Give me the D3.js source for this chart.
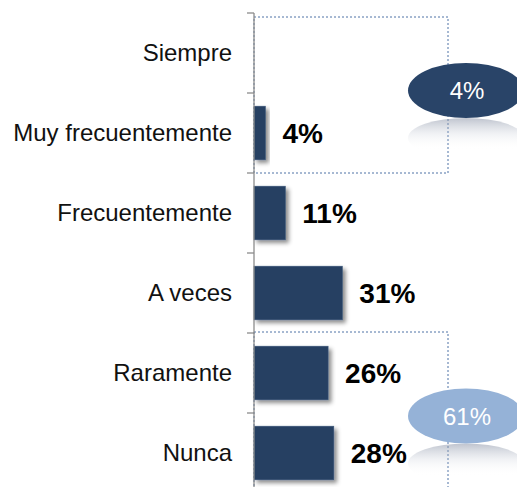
<!DOCTYPE html>
<html>
<head>
<meta charset="utf-8">
<script src="https://cdn.jsdelivr.net/npm/d3@7"></script>
<style>
  html, body { margin: 0; padding: 0; background: #fff; }
  svg { display: block; }
</style>
</head>
<body>
<div id="chart"></div>
<script>
// Frecuencia de respuesta (%)
const categories = ["Siempre", "Muy frecuentemente", "Frecuentemente", "A veces", "Raramente", "Nunca"];
const values = [0, 4, 11, 31, 26, 28];

// Agrupaciones resumidas con su porcentaje
const groupNames = ["alta", "baja"];
const groupMembers = [["Siempre", "Muy frecuentemente"], ["Raramente", "Nunca"]];
const groupLabels = ["4%", "61%"];

const W = 517, H = 487;
const axisX = 254;

const svg = d3.select("#chart").append("svg")
  .attr("width", W).attr("height", H);

const defs = svg.append("defs");

const shadow = defs.append("filter").attr("id", "barShadow")
  .attr("x", "-20%").attr("y", "-20%").attr("width", "160%").attr("height", "160%");
shadow.append("feDropShadow")
  .attr("dx", 3).attr("dy", 3).attr("stdDeviation", 2)
  .attr("flood-color", "#000").attr("flood-opacity", 0.45);

const refl = defs.append("linearGradient").attr("id", "reflect")
  .attr("x1", 0).attr("y1", 0).attr("x2", 0).attr("y2", 1);
refl.append("stop").attr("offset", "0%").attr("stop-color", "#8a93a6").attr("stop-opacity", 0.55);
refl.append("stop").attr("offset", "40%").attr("stop-color", "#b8bfcc").attr("stop-opacity", 0.2);
refl.append("stop").attr("offset", "80%").attr("stop-color", "#ffffff").attr("stop-opacity", 0);

const y = d3.scaleBand()
  .domain(categories)
  .range([13, 493])
  .paddingInner(0.33)
  .paddingOuter(0.165);

const x = d3.scaleLinear()
  .domain([0, 100])
  .range([axisX, axisX + 285]);

const boxRight = 448;

// Recuadros punteados de los grupos
groupMembers.forEach((members, i) => {
  const first = members[0], last = members[members.length - 1];
  const top = i === 0
    ? y(first) - y.step() * y.paddingOuter() + 4
    : y(first) - y.step() * y.paddingInner() / 2 - 1;
  const bottom = i === 0
    ? y(last) + y.bandwidth() + y.step() * y.paddingInner() / 2
    : H + 10;
  svg.append("rect")
    .attr("x", axisX).attr("y", top)
    .attr("width", boxRight - axisX).attr("height", bottom - top)
    .attr("fill", "none")
    .attr("stroke", "#4f72a6")
    .attr("stroke-width", 1)
    .attr("stroke-dasharray", "2,2");
});

// Barras
svg.append("g").selectAll("rect")
  .data(categories.map((c, i) => ({ c, v: values[i] })).filter(d => d.v > 0))
  .join("rect")
  .attr("x", x(0))
  .attr("y", d => y(d.c))
  .attr("width", d => x(d.v) - x(0))
  .attr("height", y.bandwidth())
  .attr("fill", "#253f62")
  .attr("stroke", "#3d5778")
  .attr("stroke-width", 0.6)
  .attr("filter", "url(#barShadow)");

// Etiquetas de valor
svg.append("g").selectAll("text")
  .data(categories.map((c, i) => ({ c, v: values[i] })).filter(d => d.v > 0))
  .join("text")
  .attr("x", d => x(d.v) + 17)
  .attr("y", d => y(d.c) + y.bandwidth() / 2)
  .attr("dy", "0.36em")
  .attr("font-family", "'Liberation Sans', Arial, sans-serif")
  .attr("font-weight", "bold")
  .attr("font-size", 28)
  .attr("fill", "#000")
  .text(d => d.v + "%");

// Eje vertical
const axis = d3.axisLeft(y).tickSize(0).tickPadding(22).tickSizeOuter(0);
const ag = svg.append("g").attr("transform", `translate(${axisX},0)`).call(axis);
ag.select(".domain").remove();
ag.selectAll("text")
  .attr("font-family", "'Liberation Sans', Arial, sans-serif")
  .attr("font-size", 24)
  .attr("fill", "#111");

svg.append("line")
  .attr("x1", axisX).attr("x2", axisX)
  .attr("y1", 13).attr("y2", H)
  .attr("stroke", "#8c8c8c").attr("stroke-width", 1.3);

// Marcas entre categorías
const boundaries = categories.map(c => y(c) - y.step() * y.paddingInner() / 2);
svg.append("g").selectAll("line")
  .data(boundaries)
  .join("line")
  .attr("x1", axisX - 7).attr("x2", axisX)
  .attr("y1", d => d).attr("y2", d => d)
  .attr("stroke", "#8c8c8c").attr("stroke-width", 1.3);

// Óvalos de resumen
const ovalColors = ["#294468", "#95b2d7"];
groupMembers.forEach((members, i) => {
  const cy = i === 0
    ? y(members[1]) - y.step() * y.paddingInner() / 2 - 2.5
    : y(members[1]) - y.step() * y.paddingInner() / 2 + 3;
  const cx = 466, rx = 58, ry = 27.5;
  const g = svg.append("g");
  g.append("ellipse")
    .attr("cx", cx).attr("cy", cy + ry + 20)
    .attr("rx", rx).attr("ry", 20)
    .attr("fill", "url(#reflect)");
  g.append("ellipse")
    .attr("cx", cx).attr("cy", cy)
    .attr("rx", rx).attr("ry", ry)
    .attr("fill", ovalColors[i]);
  g.append("text")
    .attr("x", cx + 1).attr("y", cy)
    .attr("dy", "0.36em")
    .attr("text-anchor", "middle")
    .attr("font-family", "'Liberation Sans', Arial, sans-serif")
    .attr("font-size", 24)
    .attr("fill", "#fff")
    .text(groupLabels[i]);
});
</script>
</body>
</html>
